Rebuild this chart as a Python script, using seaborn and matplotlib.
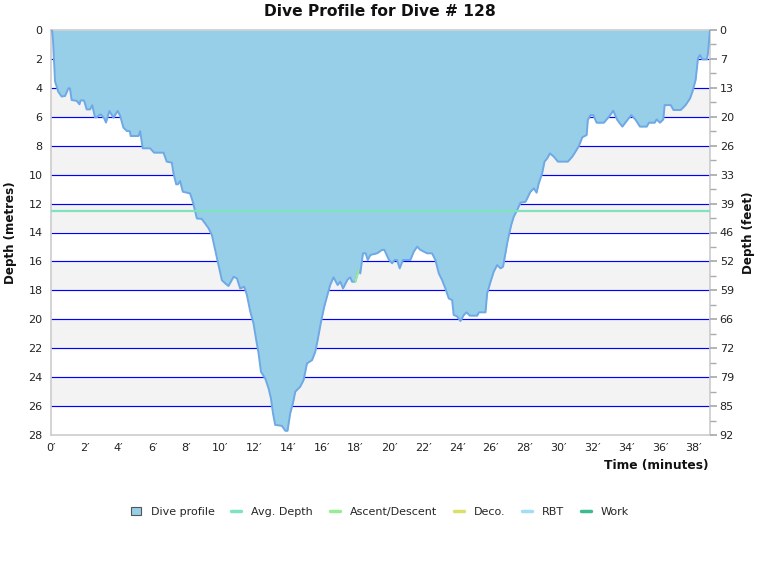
import matplotlib
matplotlib.use("Agg")
import matplotlib.pyplot as plt
import seaborn as sns
import numpy as np
import pandas as pd
from matplotlib.patches import Patch
from matplotlib.lines import Line2D
from matplotlib.ticker import MultipleLocator, FixedLocator

# ---- data ----
times = [0.0, 0.06, 0.12, 0.24, 0.43, 0.63, 0.83, 1.03, 1.12, 1.22, 1.52, 1.68, 1.75, 1.95,
         2.11, 2.31, 2.44, 2.6, 2.68, 2.94, 3.14, 3.25, 3.45, 3.69, 3.94, 4.08, 4.28, 4.48,
         4.66, 4.71, 5.17, 5.27, 5.42, 5.86, 6.09, 6.65, 6.84, 7.14, 7.24, 7.4, 7.5, 7.63,
         7.79, 8.22, 8.38, 8.62, 8.91, 9.31, 9.51, 9.7, 9.9, 10.1, 10.3, 10.49, 10.79, 10.99,
         11.18, 11.42, 11.58, 11.78, 11.97, 12.13, 12.27, 12.41, 12.66, 12.86, 13.0, 13.12,
         13.25, 13.65, 13.85, 13.98, 14.14, 14.3, 14.44, 14.73, 14.93, 15.13, 15.43, 15.62,
         15.76, 15.96, 16.15, 16.31, 16.5, 16.7, 16.94, 17.1, 17.26, 17.53, 17.69, 17.79,
         17.99, 18.18, 18.28, 18.44, 18.6, 18.72, 18.88, 19.27, 19.57, 19.7, 19.96, 20.16,
         20.3, 20.45, 20.61, 20.8, 21.24, 21.44, 21.64, 21.83, 22.23, 22.52, 22.72, 22.92,
         23.12, 23.31, 23.51, 23.71, 23.8, 24.0, 24.2, 24.4, 24.56, 24.75, 25.19, 25.29,
         25.68, 25.78, 25.98, 26.17, 26.37, 26.57, 26.72, 26.86, 27.0, 27.2, 27.35, 27.55,
         27.75, 28.05, 28.34, 28.54, 28.7, 28.83, 29.03, 29.17, 29.33, 29.49, 29.72, 29.96,
         30.55, 30.81, 31.0, 31.2, 31.4, 31.66, 31.73, 31.89, 32.05, 32.25, 32.68, 32.98,
         33.23, 33.47, 33.77, 34.07, 34.3, 34.56, 34.81, 35.21, 35.34, 35.68, 35.8, 35.99,
         36.19, 36.27, 36.63, 36.79, 37.22, 37.51, 37.77, 37.91, 38.1, 38.24, 38.36, 38.5,
         38.76, 38.83, 38.95]
depths = [0.0, 0.0, 0.7, 3.57, 4.27, 4.6, 4.56, 4.03, 4.03, 4.84, 4.9, 5.14, 4.87, 4.87,
          5.49, 5.49, 5.2, 6.04, 6.04, 5.83, 6.1, 6.4, 5.6, 6.06, 5.6, 5.9, 6.75, 6.98,
          7.0, 7.33, 7.33, 7.0, 8.18, 8.18, 8.48, 8.48, 9.1, 9.17, 9.91, 10.67, 10.67, 10.44,
          11.18, 11.3, 11.87, 13.03, 13.06, 13.7, 14.18, 15.2, 16.25, 17.3, 17.52, 17.7, 17.06, 17.17,
          17.87, 17.75, 18.33, 19.48, 20.29, 21.44, 22.36, 23.63, 24.09, 24.78, 25.47, 26.5,
          27.3, 27.37, 27.71, 27.71, 26.5, 25.8, 25.0, 24.66, 24.2, 23.05, 22.82, 22.25,
          21.44, 20.17, 19.13, 18.44, 17.63, 17.1, 17.63, 17.4, 17.87, 17.25, 17.1, 17.4,
          17.4, 16.6, 16.83, 15.44, 15.44, 15.9, 15.55, 15.44, 15.2, 15.2, 15.86, 16.13,
          15.9, 15.9, 16.48, 15.9, 15.9, 15.33, 14.98, 15.2, 15.44, 15.44, 15.9, 16.83,
          17.3, 17.87, 18.56, 18.67, 19.7, 19.8, 20.12, 19.7, 19.52, 19.75, 19.75, 19.52,
          19.52, 18.21, 17.4, 16.71, 16.25, 16.48, 16.36, 15.44, 14.52, 13.49, 12.91, 12.45,
          11.94, 11.87, 11.18, 10.95, 11.25, 10.6, 9.91, 9.1, 8.87, 8.53, 8.76, 9.1,
          9.1, 8.76, 8.41, 8.02, 7.42, 7.26, 6.22, 5.88, 5.88, 6.41, 6.41, 5.99,
          5.58, 6.22, 6.68, 6.22, 5.88, 6.22, 6.68, 6.68, 6.41, 6.41, 6.18, 6.41,
          6.18, 5.19, 5.19, 5.53, 5.53, 5.19, 4.73, 4.27, 3.46, 1.96, 1.73, 2.03,
          2.03, 1.61, 0.0]
avg_depth = 12.5
ascent_times = [17.99, 18.18]
ascent_depths = [17.4, 16.6]
x_ticks = list(range(0, 39, 2))
y_ticks = list(range(0, 29, 2))
legend_labels = ["Dive profile", "Avg. Depth", "Ascent/Descent", "Deco.", "RBT", "Work"]
legend_colors = ["#97cfe8", "#7fe3bd", "#98ec98", "#d9e06a", "#a3dcf5", "#3dba8e"]

df = pd.DataFrame({"time": times, "depth": depths})

sns.set_theme(style="white")
plt.rcParams["font.family"] = ["DejaVu Sans"]

fig = plt.figure(figsize=(7.6, 5.8), dpi=100)
ax = fig.add_axes([51/760, 1-435/580, (710-51)/760, (435-30)/580])

xmax = 38.95
# alternating bands
for k in range(0, 28, 4):
    ax.axhspan(k, k + 2, color="#f3f3f3", lw=0, zorder=0)
for yv in y_ticks[1:-1]:
    ax.axhline(yv, color="#0000ff", lw=0.85, zorder=1)

ax.fill_between(df["time"], 0, df["depth"], color="#97cfe8", lw=0, zorder=2)
sns.lineplot(data=df, x="time", y="depth", ax=ax, color="#6fa8e6", lw=1.4,
             estimator=None, sort=False, zorder=3)
ax.plot(ascent_times, ascent_depths, color=legend_colors[2], lw=1.4, zorder=4)
ax.axhline(avg_depth, color=legend_colors[1], lw=1.6, zorder=4)

ax.set_xlim(0, xmax)
ax.set_ylim(28, 0)
ax.set_xticks(x_ticks)
ax.set_xticklabels([f"{v}\u2032" for v in x_ticks])
ax.set_yticks(y_ticks)
ax.tick_params(axis="both", length=0, labelsize=8, colors="#222222", pad=6)
ax.set_xlabel("")
ax.set_ylabel("Depth (metres)", fontsize=8.6, fontweight="bold", color="#111111", labelpad=8)
for s in ax.spines.values():
    s.set_color("#cccccc")
    s.set_linewidth(1.2)

ax2 = ax.twinx()
ax2.set_ylim(28, 0)
ax2.yaxis.set_major_locator(FixedLocator(y_ticks))
ax2.set_yticklabels([f"{round(v * 3.28084):d}" for v in y_ticks])
ax2.yaxis.set_minor_locator(MultipleLocator(1))
ax2.tick_params(axis="y", which="major", length=5, color="#aaaaaa", labelsize=8,
                labelcolor="#222222", pad=2)
ax2.tick_params(axis="y", which="minor", length=4, color="#aaaaaa")
ax2.set_ylabel("Depth (feet)", fontsize=8.6, fontweight="bold", color="#111111", labelpad=6)
for s in ax2.spines.values():
    s.set_visible(False)

fig.text(708/760, 1-466/580, "Time (minutes)", ha="right", va="center",
         fontsize=8.8, fontweight="bold", color="#111111")
fig.text(0.5, 1-12/580, "Dive Profile for Dive # 128", ha="center", va="center",
         fontsize=11.2, fontweight="bold", color="#111111")

handles = [Patch(facecolor=legend_colors[0], edgecolor="#555555", lw=0.8)]
for c in legend_colors[1:]:
    handles.append(Line2D([0], [0], color=c, lw=2.5))
fig.legend(handles, legend_labels, loc="center", bbox_to_anchor=(0.5, 1-512/580),
           ncol=6, frameon=False, fontsize=8, handlelength=0.9, handleheight=0.8,
           columnspacing=1.5, handletextpad=0.9)

fig.savefig("out.png", dpi=100)
